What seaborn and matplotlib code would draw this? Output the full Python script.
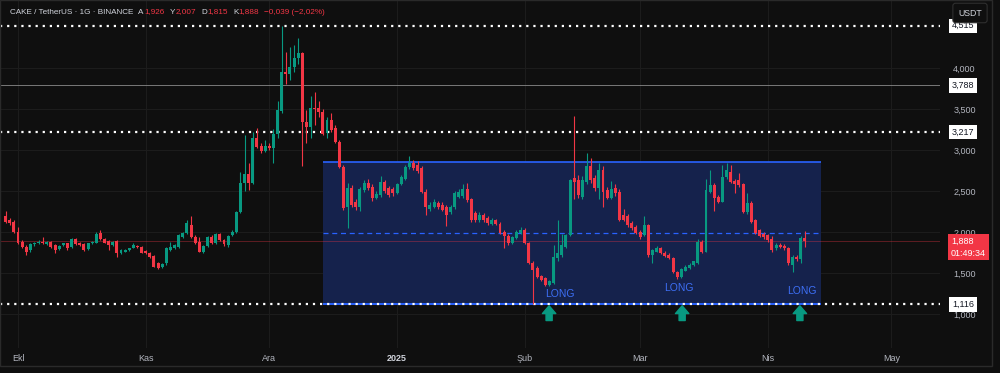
import numpy as np
import pandas as pd
import seaborn as sns
import matplotlib
matplotlib.use("Agg")
import matplotlib.pyplot as plt
import matplotlib.dates as mdates
from matplotlib import transforms
from matplotlib.patches import Rectangle


###
### DATA (daily CAKE/USDT candles)
###

start_day = "2024-09-28"

open_ = [2.195, 2.146, 2.126, 2.004, 1.880, 1.821, 1.780, 1.850, 1.862, 1.882,
         1.854, 1.882, 1.842, 1.793, 1.842, 1.862, 1.821, 1.911, 1.870, 1.850,
         1.793, 1.862, 1.870, 1.992, 1.911, 1.890, 1.842, 1.890, 1.748, 1.760,
         1.781, 1.809, 1.833, 1.821, 1.768, 1.740, 1.707, 1.618, 1.569, 1.618,
         1.781, 1.800, 1.820, 1.943, 1.984, 2.085, 1.943, 1.882, 1.760, 1.830,
         1.935, 1.862, 1.980, 1.900, 1.840, 1.960, 1.996, 2.248, 2.594, 2.710,
         2.594, 3.143, 3.050, 2.990, 3.050, 3.020, 3.200, 3.480, 3.955, 3.930,
         4.016, 4.118, 4.180, 3.345, 3.277, 3.510, 3.510, 3.467, 3.210, 3.366,
         3.265, 3.100, 2.796, 2.310, 2.533, 2.360, 2.310, 2.510, 2.600, 2.550,
         2.420, 2.450, 2.610, 2.533, 2.520, 2.480, 2.590, 2.650, 2.790, 2.840,
         2.820, 2.780, 2.490, 2.280, 2.310, 2.350, 2.330, 2.310, 2.240, 2.300,
         2.430, 2.440, 2.530, 2.400, 2.230, 2.140, 2.210, 2.167, 2.100, 2.140,
         2.100, 2.004, 1.950, 1.870, 1.930, 1.984, 2.024, 1.862, 1.626, 1.557,
         1.460, 1.435, 1.355, 1.380, 1.680, 1.720, 1.820, 1.963, 2.655, 2.634,
         2.430, 2.614, 2.800, 2.655, 2.533, 2.756, 2.510, 2.420, 2.533, 2.490,
         2.210, 2.190, 2.106, 2.065, 2.004, 1.963, 2.085, 1.720, 1.760, 1.800,
         1.745, 1.720, 1.680, 1.516, 1.455, 1.530, 1.560, 1.600, 1.620, 1.880,
         1.760, 2.490, 2.570, 2.430, 2.370, 2.675, 2.735, 2.620, 2.630, 2.585,
         2.248, 2.350, 2.146, 2.024, 1.980, 1.963, 1.920, 1.800, 1.840, 1.830,
         1.800, 1.600, 1.700, 1.670, 1.926]

high = [2.25, 2.17, 2.14, 2.065, 1.90, 1.84, 1.86, 1.88, 1.90, 1.935,
        1.89, 1.89, 1.85, 1.84, 1.87, 1.87, 1.93, 1.93, 1.88, 1.86,
        1.87, 1.89, 2.00, 2.02, 1.93, 1.90, 1.89, 1.90, 1.79, 1.79,
        1.81, 1.86, 1.84, 1.83, 1.78, 1.75, 1.72, 1.63, 1.62, 1.82,
        1.88, 1.85, 1.98, 2.00, 2.14, 2.19, 1.96, 1.94, 1.84, 1.95,
        1.96, 1.99, 1.99, 1.92, 1.96, 2.02, 2.26, 2.735, 3.18, 2.84,
        3.22, 3.265, 3.08, 3.12, 3.08, 3.25, 3.60, 4.515, 4.20, 4.25,
        4.28, 4.36, 4.20, 3.49, 3.66, 3.71, 3.60, 3.50, 3.40, 3.45,
        3.30, 3.12, 2.82, 2.60, 2.57, 2.40, 2.55, 2.63, 2.64, 2.58,
        2.50, 2.68, 2.63, 2.56, 2.55, 2.60, 2.70, 2.82, 2.93, 2.88,
        2.86, 2.80, 2.52, 2.36, 2.40, 2.38, 2.36, 2.33, 2.33, 2.50,
        2.52, 2.58, 2.60, 2.42, 2.26, 2.24, 2.23, 2.19, 2.17, 2.16,
        2.12, 2.02, 1.97, 1.95, 2.02, 2.06, 2.05, 1.88, 1.65, 1.58,
        1.48, 1.45, 1.42, 1.84, 2.146, 1.98, 1.98, 2.65, 3.415, 2.70,
        2.68, 2.96, 2.90, 2.70, 2.84, 2.80, 2.55, 2.62, 2.58, 2.52,
        2.28, 2.22, 2.13, 2.09, 2.02, 2.20, 2.10, 1.79, 1.83, 1.82,
        1.77, 1.74, 1.70, 1.53, 1.56, 1.60, 1.62, 1.65, 1.92, 1.90,
        2.64, 2.75, 2.60, 2.45, 2.82, 2.845, 2.82, 2.64, 2.72, 2.60,
        2.48, 2.38, 2.16, 2.04, 2.00, 1.98, 1.95, 1.86, 1.86, 1.85,
        1.82, 1.72, 1.72, 1.95, 2.007]

low = [2.11, 2.09, 1.99, 1.85, 1.80, 1.72, 1.76, 1.83, 1.85, 1.85,
       1.84, 1.80, 1.74, 1.78, 1.83, 1.78, 1.81, 1.84, 1.83, 1.77,
       1.78, 1.85, 1.86, 1.90, 1.86, 1.78, 1.83, 1.70, 1.73, 1.75,
       1.77, 1.80, 1.81, 1.74, 1.73, 1.68, 1.57, 1.55, 1.56, 1.60,
       1.77, 1.79, 1.81, 1.93, 1.97, 1.93, 1.85, 1.75, 1.74, 1.82,
       1.85, 1.85, 1.89, 1.83, 1.82, 1.95, 1.99, 2.23, 2.50, 2.51,
       2.58, 3.02, 2.96, 2.97, 3.00, 2.84, 3.15, 3.45, 3.80, 3.85,
       3.95, 4.05, 2.80, 3.08, 3.15, 3.30, 3.40, 3.18, 3.15, 3.22,
       3.08, 2.78, 2.27, 2.05, 2.30, 2.27, 2.25, 2.49, 2.51, 2.38,
       2.40, 2.43, 2.48, 2.43, 2.44, 2.46, 2.57, 2.63, 2.77, 2.76,
       2.72, 2.47, 2.21, 2.25, 2.29, 2.28, 2.25, 2.07, 2.22, 2.28,
       2.41, 2.42, 2.37, 2.12, 2.12, 2.12, 2.12, 2.09, 2.08, 2.08,
       1.97, 1.80, 1.84, 1.85, 1.92, 1.97, 1.85, 1.61, 1.12, 1.44,
       1.40, 1.34, 1.34, 1.37, 1.65, 1.70, 1.80, 1.95, 2.40, 2.42,
       2.40, 2.58, 2.60, 2.50, 2.40, 2.31, 2.40, 2.40, 2.44, 2.13,
       2.13, 2.06, 2.03, 1.97, 1.92, 1.95, 1.70, 1.62, 1.75, 1.73,
       1.70, 1.67, 1.50, 1.43, 1.44, 1.52, 1.55, 1.59, 1.61, 1.74,
       1.75, 2.47, 2.26, 2.35, 2.36, 2.65, 2.60, 2.48, 2.55, 2.23,
       2.22, 2.11, 1.97, 1.94, 1.92, 1.88, 1.76, 1.78, 1.80, 1.78,
       1.60, 1.516, 1.64, 1.62, 1.815]

close = [2.126, 2.106, 2.004, 1.870, 1.821, 1.760, 1.850, 1.870, 1.882, 1.862,
         1.882, 1.821, 1.781, 1.833, 1.862, 1.801, 1.911, 1.854, 1.842, 1.781,
         1.862, 1.882, 1.976, 1.911, 1.870, 1.842, 1.882, 1.748, 1.781, 1.780,
         1.801, 1.842, 1.821, 1.748, 1.740, 1.691, 1.577, 1.557, 1.610, 1.800,
         1.821, 1.842, 1.960, 1.984, 2.106, 1.943, 1.862, 1.760, 1.830, 1.935,
         1.862, 1.980, 1.900, 1.850, 1.950, 2.000, 2.248, 2.600, 2.710, 2.594,
         3.143, 3.040, 2.990, 3.050, 3.030, 3.200, 3.490, 3.955, 3.930, 4.016,
         4.118, 4.180, 3.345, 3.277, 3.510, 3.500, 3.467, 3.200, 3.366, 3.244,
         3.100, 2.796, 2.290, 2.533, 2.330, 2.310, 2.520, 2.600, 2.533, 2.410,
         2.460, 2.610, 2.500, 2.450, 2.470, 2.580, 2.670, 2.796, 2.840, 2.780,
         2.740, 2.490, 2.310, 2.330, 2.370, 2.300, 2.270, 2.210, 2.310, 2.480,
         2.490, 2.530, 2.390, 2.140, 2.140, 2.210, 2.140, 2.106, 2.150, 2.100,
         1.984, 1.950, 1.862, 1.940, 2.004, 2.024, 1.862, 1.626, 1.537, 1.455,
         1.415, 1.353, 1.400, 1.700, 1.740, 1.840, 1.960, 2.634, 2.614, 2.450,
         2.634, 2.800, 2.630, 2.533, 2.756, 2.490, 2.420, 2.530, 2.470, 2.146,
         2.146, 2.090, 2.045, 1.984, 1.943, 2.085, 1.720, 1.780, 1.810, 1.740,
         1.710, 1.680, 1.516, 1.455, 1.545, 1.577, 1.600, 1.640, 1.880, 1.760,
         2.510, 2.570, 2.410, 2.370, 2.675, 2.756, 2.614, 2.590, 2.570, 2.248,
         2.350, 2.126, 1.984, 1.951, 1.940, 1.900, 1.780, 1.840, 1.820, 1.800,
         1.620, 1.700, 1.670, 1.926, 1.888]

month_starts = ["2024-10-01", "2024-11-01", "2024-12-01", "2025-01-01",
                "2025-02-01", "2025-03-01", "2025-04-01", "2025-05-01"]
month_labels = ["Ekl", "Kas", "Ara", "2025", "Şub", "Mar", "Nis", "May"]
price_ticks = [1.0, 1.5, 2.0, 2.5, 3.0, 3.5, 4.0]

dotted_levels = [4.515, 3.217, 1.116]
solid_level = 3.788
last_price = 1.888

zone_top = 2.85
zone_bottom = 1.116
zone_start, zone_end = "2024-12-14", "2025-04-14"

long_days = ["2025-02-09 14:00", "2025-03-10 10:00", "2025-04-09 07:00"]
long_levels = [1.244, 1.317, 1.281]
arrow_days = ["2025-02-06 22:00", "2025-03-11 05:00", "2025-04-08 19:00"]

# header pieces: (text, colour, gap in px before it)
header_parts = [("CAKE / TetherUS · 1G · BINANCE", "#d1d4dc", 0),
                ("A", "#d1d4dc", 5), ("1,926", "#f23645", 0.5),
                ("Y", "#d1d4dc", 5), ("2,007", "#f23645", 0.5),
                ("D", "#d1d4dc", 5), ("1,815", "#f23645", 0.5),
                ("K", "#d1d4dc", 5), ("1,888", "#f23645", 0.5),
                ("−0,039 (−2,02%)", "#f23645", 5)]


###
### STYLE
###

BG = "#0f0f0f"
GREEN = "#089981"
RED = "#f23645"
BLUE = "#2962ff"
GRID = "#1c1c1c"
TXT = "#b2b5be"

sns.set_theme(style="dark", rc={"axes.facecolor": BG, "figure.facecolor": BG,
                                "savefig.facecolor": BG, "axes.edgecolor": BG,
                                "grid.color": GRID})
plt.rcParams["font.family"] = ["Liberation Sans", "DejaVu Sans"]


###
### CANDLES
###

df = pd.DataFrame({"date": pd.date_range(start_day, periods=len(close), freq="D"),
                   "open": open_, "high": high, "low": low, "close": close})
df["x"] = mdates.date2num(df["date"])
df["up"] = df["close"] >= df["open"]
df["colour"] = np.where(df["up"], GREEN, RED)
df["body_lo"] = df[["open", "close"]].min(axis=1)
df["body_h"] = (df["close"] - df["open"]).abs().clip(lower=0.01)

fig = plt.figure(figsize=(10, 3.73), dpi=100)
ax = fig.add_axes([0, 1 - 348 / 373, 0.94, 348 / 373])

day0 = mdates.date2num(pd.Timestamp("2024-10-01"))
ax.set_xlim(day0 - 4.37, day0 + 223.8)
ax.set_ylim(0.585, 4.829)

# grid
for v in price_ticks:
    ax.axhline(v, color=GRID, lw=0.8, zorder=0)
for m in month_starts:
    ax.axvline(mdates.date2num(pd.Timestamp(m)), color=GRID, lw=0.8, zorder=0)

# blue zone
zx0 = mdates.date2num(pd.Timestamp(zone_start))
zx1 = mdates.date2num(pd.Timestamp(zone_end))
ax.add_patch(Rectangle((zx0, zone_bottom), zx1 - zx0, zone_top - zone_bottom,
                       facecolor="#15224c", edgecolor="none", zorder=1))
ax.hlines(zone_top, zx0, zx1, color=BLUE, lw=1.2, zorder=2)
ax.hlines((zone_top + zone_bottom) / 2, zx0, zx1, color=BLUE, lw=0.9,
          linestyles=(0, (4, 3)), zorder=2)
ax.hlines(zone_bottom, zx0, zx1, color=BLUE, lw=1.4, zorder=2)

# level lines
for lv in dotted_levels:
    ax.axhline(lv, color="white", lw=1.6, ls=(0, (1, 2.2)), zorder=3)
ax.axhline(solid_level, color="#8a8a8a", lw=0.6, zorder=2)
ax.axhline(last_price, color=RED, lw=0.6, alpha=0.4, zorder=2)

ax.vlines(df["x"], df["low"], df["high"], colors=df["colour"], lw=0.8, zorder=4)
ax.bar(df["x"], df["body_h"], bottom=df["body_lo"], width=0.72,
       color=df["colour"], linewidth=0, zorder=5)

# annotations
for d, lv in zip(long_days, long_levels):
    ax.text(mdates.date2num(pd.Timestamp(d)), lv, "LONG", color="#3d6ff5",
            fontsize=7.5, ha="center", va="center", zorder=6)
for d in arrow_days:
    xa = mdates.date2num(pd.Timestamp(d))
    ax.annotate("", xy=(xa, 1.10), xytext=(xa, 0.92),
                arrowprops=dict(arrowstyle="simple,head_length=0.7,head_width=1.2,tail_width=0.55",
                                color=GREEN, mutation_scale=8, shrinkA=0, shrinkB=0),
                zorder=6)

# axes / ticks
ax.grid(False)
ax.yaxis.tick_right()
ax.set_yticks(price_ticks)
ax.set_yticklabels([f"{v:.3f}".replace(".", ",") for v in price_ticks])
ax.tick_params(axis="y", length=0, pad=9.5, labelsize=6.5, labelcolor=TXT)
ax.set_xticks(mdates.date2num(pd.to_datetime(month_starts)))
ax.set_xticklabels(month_labels)
ax.tick_params(axis="x", length=0, pad=4.5, labelsize=6.5, labelcolor=TXT)
for lab in ax.get_xticklabels():
    if lab.get_text() == "2025":
        lab.set_fontweight("bold")
        lab.set_color("#d1d4dc")
for s in ax.spines.values():
    s.set_visible(False)

# price scale labels
trans = transforms.blended_transform_factory(fig.transFigure, ax.transData)
for lv in dotted_levels + [solid_level]:
    ax.text(963 / 1000, lv, f"{lv:.3f}".replace(".", ","), transform=trans,
            ha="center", va="center", fontsize=6.5, color="#131722", zorder=10,
            bbox=dict(boxstyle="square,pad=0.3", fc="white", ec="none"))
ax.text(951 / 1000, last_price - 0.075, "1,888\n01:49:34", transform=trans,
        ha="left", va="center", fontsize=6.5, color="white", linespacing=1.35,
        zorder=10, bbox=dict(boxstyle="square,pad=0.3", fc=RED, ec="none"))

# header, laid out piece by piece
renderer = fig.canvas.get_renderer()
cursor = 10
for txt, col, gap in header_parts:
    cursor += gap
    t = fig.text(cursor / 1000, 1 - 12 / 373, txt, color=col, fontsize=5.9,
                 ha="left", va="center")
    cursor += t.get_window_extent(renderer).width

fig.text(970 / 1000, 1 - 13 / 373, "USDT", color="#d1d4dc", fontsize=6.3,
         ha="center", va="center",
         bbox=dict(boxstyle="round,pad=0.6,rounding_size=0.3", fc=BG, ec="#2f2f2f", lw=0.8))

# frame
fig.patches.append(Rectangle((0, 1 - 366 / 373), 992 / 1000, 366 / 373,
                             transform=fig.transFigure, fill=False,
                             edgecolor="#2a2a2a", lw=1.0))

fig.savefig("out.png", dpi=100)
